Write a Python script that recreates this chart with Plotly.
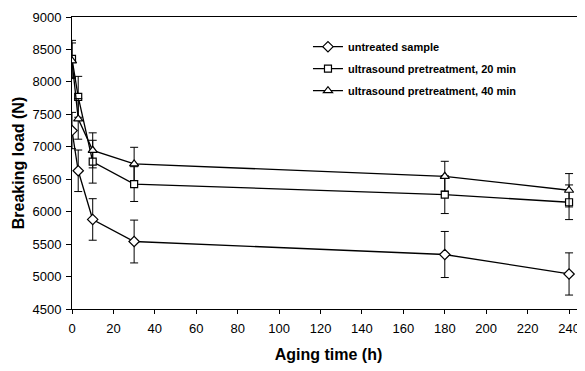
import plotly.graph_objects as go

hours = [0, 3, 10, 30, 180, 240]
untreated = [7250, 6630, 5880, 5540, 5340, 5040]
untreated_err = [280, 320, 320, 330, 355, 325]
us20 = [8355, 7770, 6770, 6425, 6263, 6145]
us20_err = [285, 315, 330, 268, 292, 267]
us40 = [8325, 7430, 6945, 6736, 6545, 6330]
us40_err = [275, 313, 270, 256, 231, 257]
names = ["untreated sample", "ultrasound pretreatment, 20 min", "ultrasound pretreatment, 40 min"]
y_ticks = [4500, 5000, 5500, 6000, 6500, 7000, 7500, 8000, 8500, 9000]
x_ticks = list(range(0, 241, 20))

fig = go.Figure()
series = [(untreated, untreated_err, "diamond", 8), (us20, us20_err, "square", 7), (us40, us40_err, "triangle-up", 8)]
for i, ((vals, err, sym, sz), name) in enumerate(zip(series, names)):
    fig.add_trace(go.Scatter(
        x=hours, y=vals, name=name, mode="lines+markers", legendgroup=f"g{i}",
        line=dict(color="black", width=1.3),
        marker=dict(symbol=sym, size=sz, color="white", line=dict(color="black", width=1.2)),
        error_y=dict(type="data", array=err, visible=True, color="black", thickness=1, width=4),
    ))

# The page body has an 8px default margin, so the figure is sized/offset to compensate.
fig.update_layout(
    width=577, height=363,
    margin=dict(l=64, r=0, t=9, b=62, autoexpand=False),
    paper_bgcolor="white", plot_bgcolor="white",
    font=dict(family="Liberation Sans, Arial, sans-serif", color="black", size=13),
    showlegend=True,
    legend=dict(x=0.46, y=0.948, xanchor="left", yanchor="top", bgcolor="rgba(0,0,0,0)",
                font=dict(size=11, family="Liberation Sans, Arial, sans-serif", weight="bold"),
                traceorder="grouped", tracegroupgap=3, itemwidth=30),
    xaxis=dict(range=[0, 247.7], tickvals=x_ticks, showline=True, linecolor="black", linewidth=1,
               mirror=True, ticks="outside", ticklen=4, tickcolor="black", showgrid=False, zeroline=False,
               automargin=False, ticklabelstandoff=3,
               title=dict(text="<b>Aging time (h)</b>", font=dict(size=16), standoff=14)),
    yaxis=dict(range=[4500, 9000], tickvals=y_ticks, showline=True, linecolor="black", linewidth=1,
               ticks="outside", ticklen=5, tickcolor="black", showgrid=False, zeroline=False,
               automargin=False, ticklabelstandoff=2,
               title=dict(text="<b>Breaking load (N)</b>", font=dict(size=16), standoff=3)),
)
fig.write_html("out.html")
